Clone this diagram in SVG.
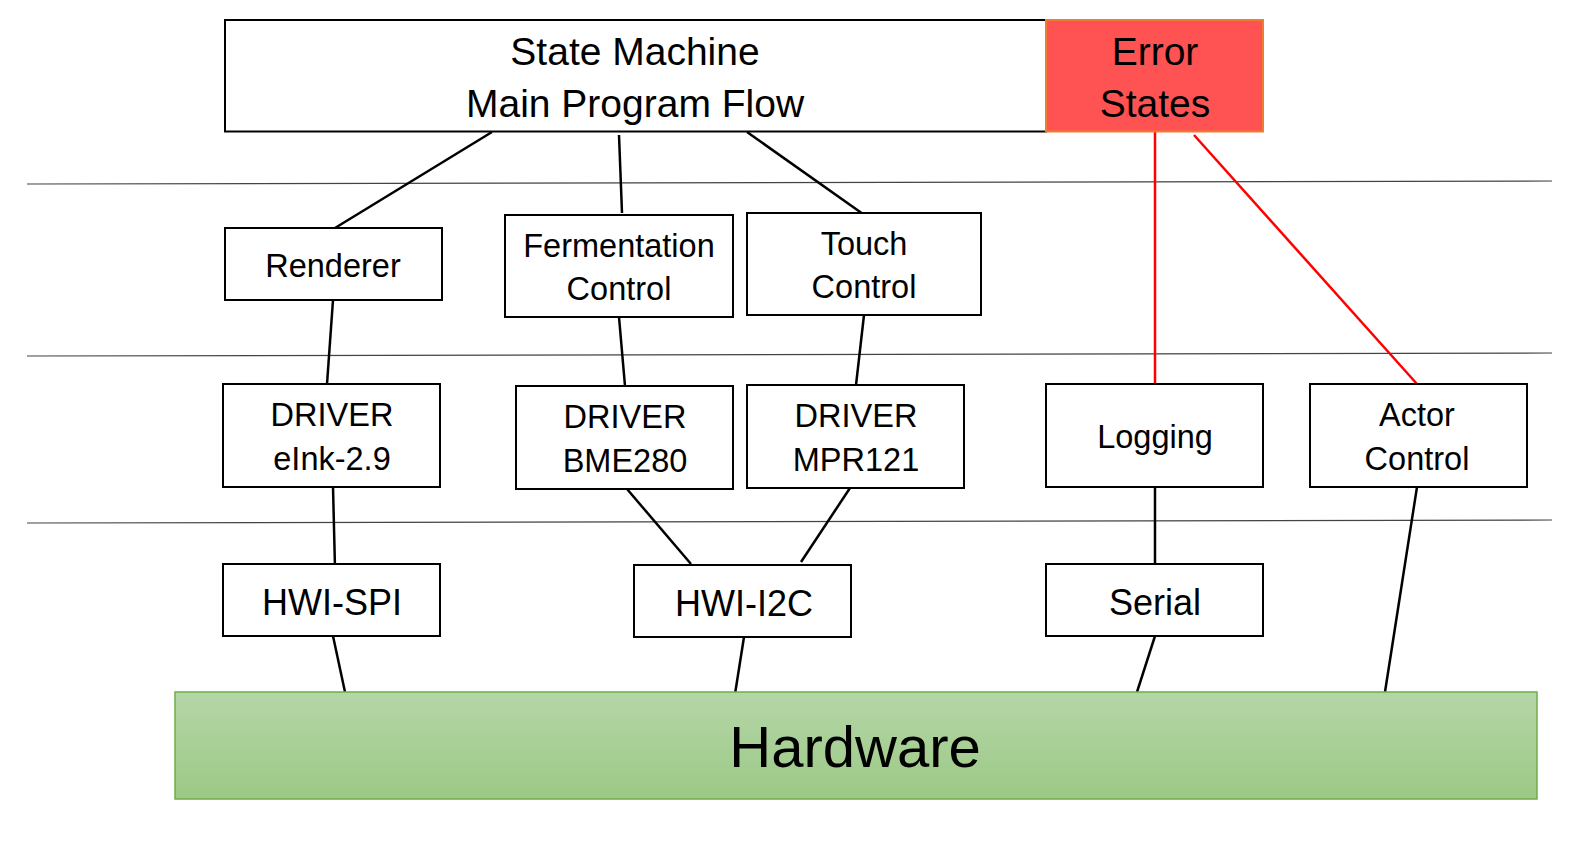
<svg xmlns="http://www.w3.org/2000/svg" width="1574" height="853" viewBox="0 0 1574 853">
<defs>
<linearGradient id="hwGrad" x1="0" y1="0" x2="0" y2="1">
<stop offset="0" stop-color="#B5D6A7"/>
<stop offset="1" stop-color="#9CC986"/>
</linearGradient>
</defs>
<style>
.box{fill:#fff;stroke:#000;stroke-width:2}
.t{font-family:"Liberation Sans",Arial,sans-serif;fill:#000;text-anchor:middle}
.s{font-size:32.5px}
.m{font-size:39px}
.sep{stroke:#444;stroke-width:1.2;fill:none}
.c{stroke:#000;stroke-width:2.5;fill:none}
.r{stroke:#FF0000;stroke-width:2.5;fill:none}
</style>
<rect width="1574" height="853" fill="#fff"/>
<g id="separators">
<line class="sep" x1="27" y1="184" x2="1552" y2="181"/>
<line class="sep" x1="27" y1="356" x2="1552" y2="353"/>
<line class="sep" x1="27" y1="523" x2="1552" y2="520"/>
</g>
<g id="connectors">
<line class="c" x1="492" y1="132" x2="335" y2="228"/>
<line class="c" x1="619" y1="135" x2="622" y2="213"/>
<line class="c" x1="747" y1="132" x2="863" y2="214"/>
<line class="r" x1="1155" y1="131" x2="1155" y2="384"/>
<line class="r" x1="1194" y1="135" x2="1417" y2="384"/>
<line class="c" x1="333" y1="300" x2="327" y2="384"/>
<line class="c" x1="619" y1="317" x2="625" y2="386"/>
<line class="c" x1="864" y1="315" x2="856" y2="385"/>
<line class="c" x1="333" y1="487" x2="335" y2="568"/>
<line class="c" x1="627" y1="489" x2="691" y2="564"/>
<line class="c" x1="850" y1="488" x2="801" y2="562"/>
<line class="c" x1="1155" y1="487" x2="1155" y2="564"/>
<line class="c" x1="1417" y1="487" x2="1385" y2="692"/>
<line class="c" x1="333" y1="636" x2="345" y2="692"/>
<line class="c" x1="744" y1="637" x2="735" y2="694"/>
<line class="c" x1="1155" y1="636" x2="1137" y2="692"/>
</g>
<g id="main">
<rect class="box" x="225" y="20" width="821" height="111.5"/>
<text class="t m" x="635" y="65">State Machine</text>
<text class="t m" x="635" y="117">Main Program Flow</text>
</g>
<g id="error">
<rect x="1046" y="20" width="217" height="111.5" fill="#FF5252" stroke="#ED7D31" stroke-width="2"/>
<text class="t m" x="1155" y="65">Error</text>
<text class="t m" x="1155" y="117">States</text>
</g>
<g id="renderer">
<rect class="box" x="225" y="228" width="217" height="72"/>
<text class="t s" x="333" y="277">Renderer</text>
</g>
<g id="fermentation">
<rect class="box" x="505" y="215" width="228" height="102"/>
<text class="t s" x="619" y="257">Fermentation</text>
<text class="t s" x="619" y="300">Control</text>
</g>
<g id="touch">
<rect class="box" x="747" y="213" width="234" height="102"/>
<text class="t s" x="864" y="255">Touch</text>
<text class="t s" x="864" y="298">Control</text>
</g>
<g id="driver-eink">
<rect class="box" x="223" y="384" width="217" height="103"/>
<text class="t s" x="332" y="426">DRIVER</text>
<text class="t s" x="332" y="470">eInk-2.9</text>
</g>
<g id="driver-bme280">
<rect class="box" x="516" y="386" width="217" height="103"/>
<text class="t s" x="625" y="428">DRIVER</text>
<text class="t s" x="625" y="472">BME280</text>
</g>
<g id="driver-mpr121">
<rect class="box" x="747" y="385" width="217" height="103"/>
<text class="t s" x="856" y="427">DRIVER</text>
<text class="t s" x="856" y="471">MPR121</text>
</g>
<g id="logging">
<rect class="box" x="1046" y="384" width="217" height="103"/>
<text class="t s" x="1155" y="448">Logging</text>
</g>
<g id="actor">
<rect class="box" x="1310" y="384" width="217" height="103"/>
<text class="t s" x="1417" y="426">Actor</text>
<text class="t s" x="1417" y="470">Control</text>
</g>
<g id="hwi-spi">
<rect class="box" x="223" y="564" width="217" height="72"/>
<text class="t" style="font-size:36px" x="332" y="615">HWI-SPI</text>
</g>
<g id="hwi-i2c">
<rect class="box" x="634" y="565" width="217" height="72"/>
<text class="t" style="font-size:36px" x="744" y="616">HWI-I2C</text>
</g>
<g id="serial">
<rect class="box" x="1046" y="564" width="217" height="72"/>
<text class="t" style="font-size:36px" x="1155" y="615">Serial</text>
</g>
<g id="hardware">
<rect x="175" y="692" width="1362" height="107" fill="url(#hwGrad)" stroke="#70AD47" stroke-width="1.5"/>
<text class="t" style="font-size:58px" x="855" y="767">Hardware</text>
</g>
</svg>
